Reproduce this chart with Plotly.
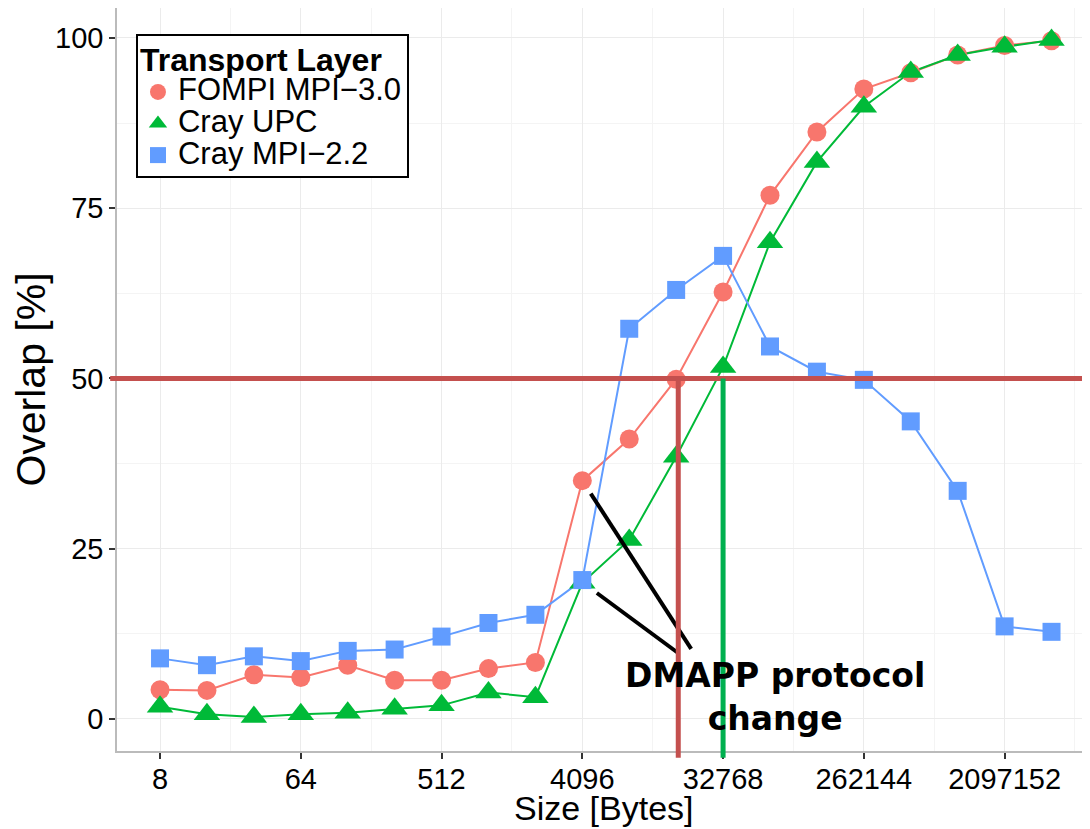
import math
import plotly.graph_objects as go

# message sizes in bytes (2^3 .. 2^22)
sizes = [8, 16, 32, 64, 128, 256, 512, 1024, 2048, 4096, 8192, 16384, 32768,
         65536, 131072, 262144, 524288, 1048576, 2097152, 4194304]

# overlap in percent
fompi_mpi30 = [4.3, 4.2, 6.5, 6.1, 7.9, 5.7, 5.7, 7.4, 8.3, 35.0, 41.1, 49.9, 62.7,
               76.9, 86.2, 92.5, 94.9, 97.5, 98.9, 99.6]
cray_upc = [1.8, 0.7, 0.3, 0.7, 0.9, 1.5, 2.0, 3.9, 3.2, 20.0, 26.3, 38.5, 51.7,
            70.0, 81.8, 89.9, 95.0, 97.5, 98.7, 99.7]
cray_mpi22 = [8.9, 7.9, 9.2, 8.5, 10.0, 10.2, 12.1, 14.1, 15.3, 20.4, 57.3, 63.0, 68.0,
              54.7, 51.0, 49.8, 43.7, 33.5, 13.6, 12.8]

x_ticks = [8, 64, 512, 4096, 32768, 262144, 2097152]
y_ticks = [0, 25, 50, 75, 100]

# reference markers
threshold = 50
fompi_cross = 16900   # where FOMPI reaches 50 %
upc_cross = 32768

Y_RANGE = [-4.7, 104.4]
X_RANGE = [math.log10(2 ** 2.083), math.log10(2 ** 22.82)]

series = [
    ("FOMPI MPI\u22123.0", fompi_mpi30, "#F8766D", "circle", 19),
    ("Cray UPC", cray_upc, "#00BA38", "triangle-up", 23),
    ("Cray MPI\u22122.2", cray_mpi22, "#619CFF", "square", 18),
]

FONT = "Liberation Sans, Arial, sans-serif"
LEG_TXT = '<span style="font-size:31px">{}</span>'

fig = go.Figure()

# lines first, then points on top (like ggplot)
for name, vals, color, sym, ms in series:
    fig.add_trace(go.Scatter(x=sizes, y=vals, mode="lines", showlegend=False,
                             line=dict(color=color, width=2), hoverinfo="skip"))
for name, vals, color, sym, ms in series:
    fig.add_trace(go.Scatter(x=sizes, y=vals, mode="markers", name=LEG_TXT.format(name),
                             marker=dict(color=color, symbol=sym, size=ms, line=dict(width=0))))

# DMAPP pointer lines
fig.add_trace(go.Scatter(x=[2 ** 12.18, 2 ** 14.32], y=[33.1, 10.3], mode="lines",
                         line=dict(color="black", width=4), showlegend=False, hoverinfo="skip"))
fig.add_trace(go.Scatter(x=[2 ** 12.31, 2 ** 14.02], y=[18.5, 9.8], mode="lines",
                         line=dict(color="black", width=4), showlegend=False, hoverinfo="skip"))

y50 = (threshold - Y_RANGE[0]) / (Y_RANGE[1] - Y_RANGE[0])
fig.add_shape(type="line", xref="paper", yref="y", x0=-0.007, x1=1, y0=threshold, y1=threshold,
              line=dict(color="#C4504E", width=5))
fig.add_shape(type="line", xref="x", yref="paper", x0=fompi_cross, x1=fompi_cross, y0=-0.009, y1=y50,
              line=dict(color="#C4504E", width=5))
fig.add_shape(type="line", xref="x", yref="paper", x0=upc_cross, x1=upc_cross, y0=-0.009, y1=y50,
              line=dict(color="#00B04F", width=5))

fig.add_annotation(x=math.log10(2 ** 16.11), y=3.2, xref="x", yref="y",
                   text="DMAPP protocol<br>change", showarrow=False, align="center",
                   font=dict(family="DejaVu Sans", size=33, color="black", weight="bold"))

# x axis title placed by hand so it sits just under the tick labels
fig.add_annotation(x=0.5, y=-0.077, xref="paper", yref="paper", yanchor="middle",
                   text="Size [Bytes]", showarrow=False,
                   font=dict(family=FONT, size=34, color="black"))

# page body adds an 8px offset, so the figure is 8px smaller and margins shifted
fig.update_layout(
    width=1082, height=821,
    margin=dict(l=109, r=0, t=0, b=78),
    paper_bgcolor="white", plot_bgcolor="white",
    font=dict(family=FONT, color="black"),
    legend=dict(
        title=dict(text='<b><span style="font-size:32px">Transport Layer</span></b>',
                   font=dict(size=27, family=FONT)),
        x=0.0195, y=0.965, xanchor="left", yanchor="top",
        bordercolor="black", borderwidth=2, bgcolor="white",
        font=dict(size=22, family=FONT), tracegroupgap=0,
    ),
)

fig.update_xaxes(
    type="log", range=X_RANGE, automargin=False,
    tickvals=x_ticks, ticktext=[str(v) for v in x_ticks],
    tickfont=dict(size=29), ticks="outside", ticklen=6, tickcolor="#333", tickwidth=1.5,
    ticklabelstandoff=-5,
    showgrid=True, gridcolor="#EBEBEB", gridwidth=1.2,
    minor=dict(tickvals=[t * 2 ** 1.5 for t in x_ticks], showgrid=True, gridcolor="#F4F4F4", ticks=""),
    showline=True, linecolor="#BBBBBB", linewidth=1.5, mirror=True,
)
fig.update_yaxes(
    range=Y_RANGE, tickvals=y_ticks, automargin=False,
    tickfont=dict(size=29), ticks="outside", ticklen=6, tickcolor="#333", tickwidth=1.5,
    showgrid=True, gridcolor="#EBEBEB", gridwidth=1.2, zeroline=False,
    minor=dict(tickvals=[12.5, 37.5, 62.5, 87.5], showgrid=True, gridcolor="#F4F4F4", ticks=""),
    showline=True, linecolor="#BBBBBB", linewidth=1.5,
    title=dict(text="Overlap [%]", font=dict(size=41), standoff=8),
)

fig.write_html("out.html")
